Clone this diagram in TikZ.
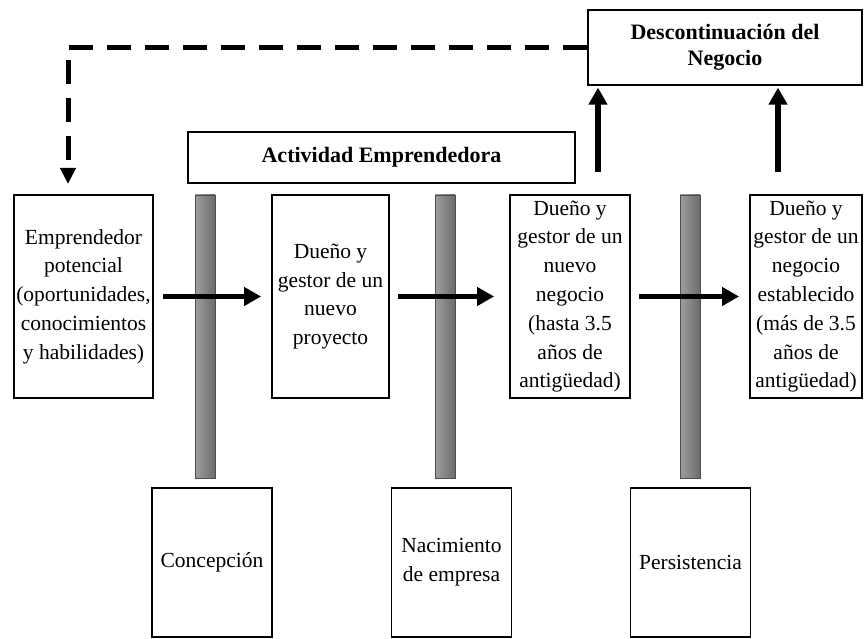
\documentclass[tikz,border=0pt]{standalone}
\usepackage{fontspec}
\setmainfont{Liberation Serif}
\usetikzlibrary{arrows.meta}
\begin{document}
\begin{tikzpicture}[x=1pt,y=-1pt,
  box/.style={draw, line width=1.8pt, inner sep=0pt, align=center,
    font=\fontsize{21.5}{28.8}\selectfont, minimum height=203pt},
  lowbox/.style={draw, line width=1.8pt, inner sep=0pt, align=center,
    font=\fontsize{21.5}{28.8}\selectfont, minimum width=120pt, minimum height=149pt},
  titlebox/.style={draw, line width=1.2pt, inner sep=0pt, align=center,
    font=\fontsize{22}{26}\selectfont\bfseries},
  bar/.style={draw=black!70, line width=0.8pt, left color=black!38, right color=black!58,
    minimum width=20pt, minimum height=283pt, inner sep=0pt},
  arr/.style={line width=5.5pt, -{Triangle[length=17pt,width=18pt]}},
  dasharr/.style={line width=5pt, dash pattern=on 24pt off 14pt, -{Triangle[length=16pt,width=15pt]}}
]
\useasboundingbox (0,0) rectangle (865,639);

% gray bars
\node[bar] (bar1) at (205,336.5) {};
\node[bar] (bar2) at (445,336.5) {};
\node[bar] (bar3) at (690,336.5) {};

% main boxes
\node[box, minimum width=139pt] (b1) at (83.5,296.5) {Emprendedor\\potencial\\(oportunidades,\\conocimientos\\y habilidades)};
\node[box, minimum width=117pt] (b2) at (330.5,296.5) {Dueño y\\gestor de un\\nuevo\\proyecto};
\node[box, minimum width=120pt] (b3) at (570,296.5) {Dueño y\\gestor de un\\nuevo\\negocio\\(hasta 3.5\\años de\\antigüedad)};
\node[box, minimum width=112pt] (b4) at (806,296.5) {Dueño y\\gestor de un\\negocio\\establecido\\(más de 3.5\\años de\\antigüedad)};

% lower boxes
\node[lowbox] (c1) at (212,562.5) {Concepción};
\node[lowbox] (c2) at (451.5,562.5) {Nacimiento\\de empresa};
\node[lowbox] (c3) at (690.5,562.5) {Persistencia};

% title boxes
\node[titlebox, minimum width=387pt, minimum height=51pt] (act) at (381.5,157.5) {Actividad Emprendedora};
\node[titlebox, minimum width=274pt, minimum height=75pt] (disc) at (725,47.5) {Descontinuación del\\Negocio};

% horizontal arrows
\draw[arr, shorten <=9pt, shorten >=10pt] (b1.east) -- (b2.west);
\draw[arr, shorten <=8pt, shorten >=15pt] (b2.east) -- (b3.west);
\draw[arr, shorten <=8pt, shorten >=10pt] (b3.east) -- (b4.west);

% vertical arrows to discontinuation
\coordinate (u1) at (598,172);
\coordinate (u2) at (778,172);
\draw[arr, shorten >=2pt] (u1) -- (u1 |- disc.south);
\draw[arr, shorten >=2pt] (u2) -- (u2 |- disc.south);

% dashed feedback
\coordinate (dd) at (68,184);
\draw[dasharr] (disc.west) -| (dd);
\end{tikzpicture}
\end{document}
